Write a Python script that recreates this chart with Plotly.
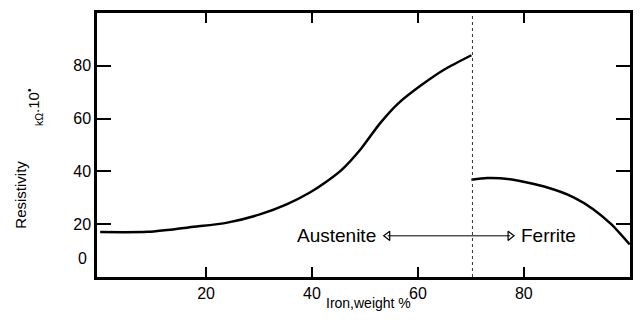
import plotly.graph_objects as go

# Austenite branch (Iron weight %, resistivity)
aus_x = [0, 9.0, 17.7, 24.0, 30.3, 35.2, 39.6, 42.5, 45.6, 49.3, 52.8, 56.2, 60.6, 65.0, 70.1]
aus_y = [17.0, 17.1, 19.0, 20.6, 23.8, 27.5, 32.0, 35.8, 40.6, 48.7, 58.1, 65.6, 72.6, 78.6, 84.0]

# Ferrite branch
fer_x = [70.1, 73.1, 77.4, 84.3, 89.4, 93.1, 96.5, 100.0]
fer_y = [36.8, 37.5, 37.0, 34.0, 30.2, 25.7, 20.0, 12.3]

boundary_x = 70.3
arrow_x = [54.3, 77.4]
arrow_y = 15.6

x_ticks = [20, 40, 60, 80, 100]
y_ticks = [20, 40, 60, 80]
x_range = [-0.6, 100.05]
y_range = [0, 100]

FONT = "Arial"
INK = "black"

fig = go.Figure()
fig.add_trace(go.Scatter(x=aus_x, y=aus_y, mode="lines",
                         line=dict(color=INK, width=2.5, shape="spline", smoothing=0.7)))
fig.add_trace(go.Scatter(x=fer_x, y=fer_y, mode="lines",
                         line=dict(color=INK, width=2.5, shape="spline", smoothing=0.7)))
# phase boundary
fig.add_trace(go.Scatter(x=[boundary_x, boundary_x], y=y_range, mode="lines",
                         line=dict(color="#333333", width=1, dash="dot")))
# double arrow
fig.add_trace(go.Scatter(x=arrow_x, y=[arrow_y, arrow_y], mode="lines",
                         line=dict(color=INK, width=1)))
fig.add_trace(go.Scatter(x=arrow_x, y=[arrow_y, arrow_y], mode="markers",
                         marker=dict(symbol=["triangle-left-open", "triangle-right-open"],
                                     size=8, color=INK, line=dict(width=1.2, color=INK))))

# page body has an 8px margin, so the figure is shifted by 8px
fig.update_layout(
    width=635, height=326, showlegend=False,
    margin=dict(l=89, r=13, t=2, b=57),
    plot_bgcolor="white", paper_bgcolor="white",
    xaxis=dict(range=x_range, tickvals=x_ticks, ticks="inside", ticklen=10, tickwidth=2,
               tickcolor=INK, showline=True, linewidth=2.5, linecolor=INK, mirror="ticks",
               showgrid=False, zeroline=False,
               tickfont=dict(size=16, family=FONT, color=INK)),
    yaxis=dict(range=y_range, tickvals=y_ticks, ticks="inside", ticklen=14, tickwidth=2,
               tickcolor=INK, showline=True, linewidth=2.5, linecolor=INK, mirror="ticks",
               showgrid=False, zeroline=False,
               tickfont=dict(size=16, family=FONT, color=INK)),
)

def f(size):
    return dict(size=size, family=FONT, color=INK)

annos = [
    dict(text="Austenite", x=44.6, y=arrow_y, xref="x", yref="y", showarrow=False,
         xanchor="center", yanchor="middle", font=f(19)),
    dict(text="Ferrite", x=84.6, y=arrow_y, xref="x", yref="y", showarrow=False,
         xanchor="center", yanchor="middle", font=f(19)),
    dict(text="Iron,weight %", x=0.51, y=-0.097, xref="paper", yref="paper",
         showarrow=False, xanchor="center", yanchor="middle", font=f(14)),
    dict(text="Resistivity", x=-0.143, y=0.311, xref="paper", yref="paper",
         showarrow=False, textangle=-90, xanchor="center", yanchor="middle", font=f(15)),
    dict(text="<sub>kΩ</sub>.10<sup>•</sup>", x=-0.118, y=0.644, xref="paper", yref="paper",
         showarrow=False, textangle=-90, xanchor="center", yanchor="middle", font=f(15)),
    dict(text="0", x=-0.015, y=0.071, xref="paper", yref="paper", xanchor="right",
         yanchor="middle", showarrow=False, font=f(16)),
]
fig.update_layout(annotations=annos)

fig.write_html("out.html")
